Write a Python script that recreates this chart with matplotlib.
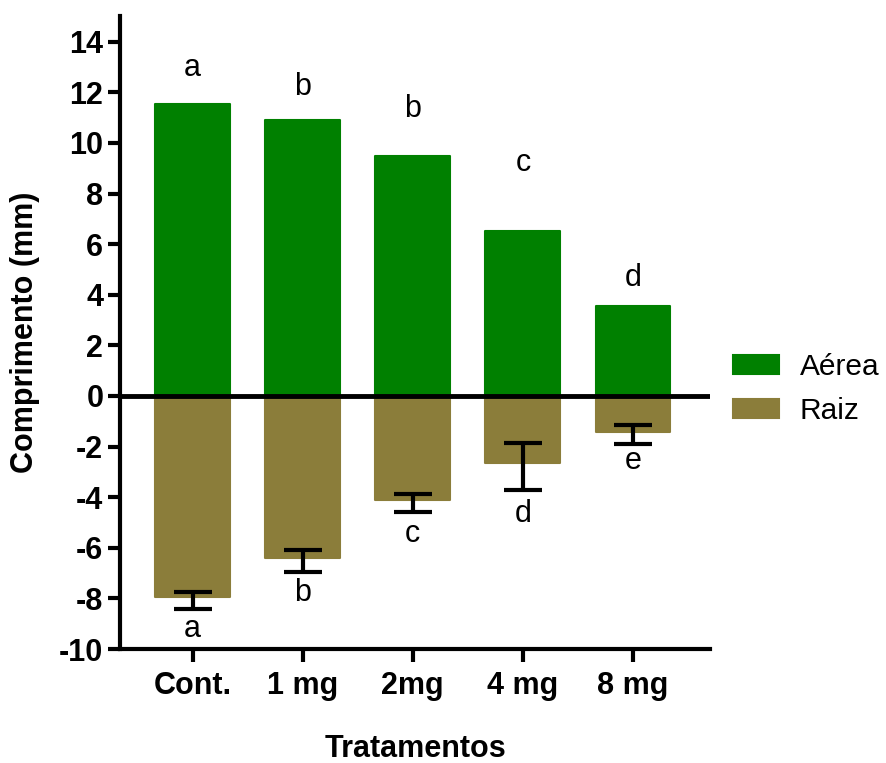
import numpy as np
import matplotlib
matplotlib.use("Agg")
import matplotlib.pyplot as plt

plt.rcParams['font.family'] = ['Liberation Sans', 'DejaVu Sans']
plt.rcParams['axes.unicode_minus'] = False

# Données
tratamentos = ["Cont.", "1 mg", "2mg", "4 mg", "8 mg"]
aerea = [11.54, 10.92, 9.47, 6.54, 3.54]
raiz = [-7.94, -6.40, -4.11, -2.65, -1.42]
# barras de erro (assimétricas)
raiz_err_baixo = [0.48, 0.56, 0.47, 1.07, 0.48]
raiz_err_cima = [0.19, 0.31, 0.24, 0.79, 0.27]
letras_aerea = ["a", "b", "b", "c", "d"]
letras_aerea_y = [12.96, 12.2, 11.34, 9.2, 4.66]
letras_raiz = ["a", "b", "c", "d", "e"]
letras_raiz_y = [-9.2, -7.8, -5.45, -4.66, -2.57]

verde = "#008000"
marrom = "#8B7D3A"

fig = plt.figure(figsize=(8.86, 7.63), dpi=100)
ax = fig.add_axes([0.1354, 0.1494, 0.666, 0.829])

x = np.arange(len(tratamentos))
ax.bar(x, aerea, width=0.68, color=verde, edgecolor=verde, linewidth=1.5,
       joinstyle="round", label="Aérea", zorder=2)
ax.bar(x, raiz, width=0.68, color=marrom, edgecolor=marrom, linewidth=1.5,
       joinstyle="round", label="Raiz", zorder=2)

# ponto central da barra de erro
centro = [r + (c - b) / 2 for r, b, c in zip(raiz, raiz_err_baixo, raiz_err_cima)]
meia = [(b + c) / 2 for b, c in zip(raiz_err_baixo, raiz_err_cima)]
ax.errorbar(x, centro, yerr=meia, fmt="none", ecolor="black",
            elinewidth=3, capsize=13.5, capthick=3, zorder=4)

ax.axhline(0, color="black", linewidth=3.5, zorder=3)

for xi, l, y in zip(x, letras_aerea, letras_aerea_y):
    ax.text(xi, y, l, ha="center", va="center", fontsize=22)
for xi, l, y in zip(x, letras_raiz, letras_raiz_y):
    ax.text(xi, y, l, ha="center", va="center", fontsize=22)

ax.set_xlim(-0.66, 4.7)
ax.set_ylim(-10, 15)
ax.set_yticks(np.arange(-10, 15, 2))
ax.set_xticks(x)
ax.set_xticklabels(tratamentos)

for s in ["top", "right"]:
    ax.spines[s].set_visible(False)
for s in ["left", "bottom"]:
    ax.spines[s].set_linewidth(3)

ax.tick_params(axis="both", width=3, length=9, labelsize=22, pad=3)
for lab in ax.get_xticklabels() + ax.get_yticklabels():
    lab.set_fontweight("bold")
ax.tick_params(axis="x", pad=7)

ax.set_ylabel("Comprimento (mm)", fontsize=22, fontweight="bold")
ax.yaxis.set_label_coords(-0.136, 0.5)
ax.set_xlabel("Tratamentos", fontsize=22, fontweight="bold")
ax.xaxis.set_label_coords(0.5, -0.135)

ax.legend(loc="center left", bbox_to_anchor=(1.018, 0.411), frameon=False,
          fontsize=21.5, handlelength=1.55, handleheight=0.6,
          handletextpad=0.7, labelspacing=0.55, borderaxespad=0)

fig.savefig("out.png", dpi=100)
